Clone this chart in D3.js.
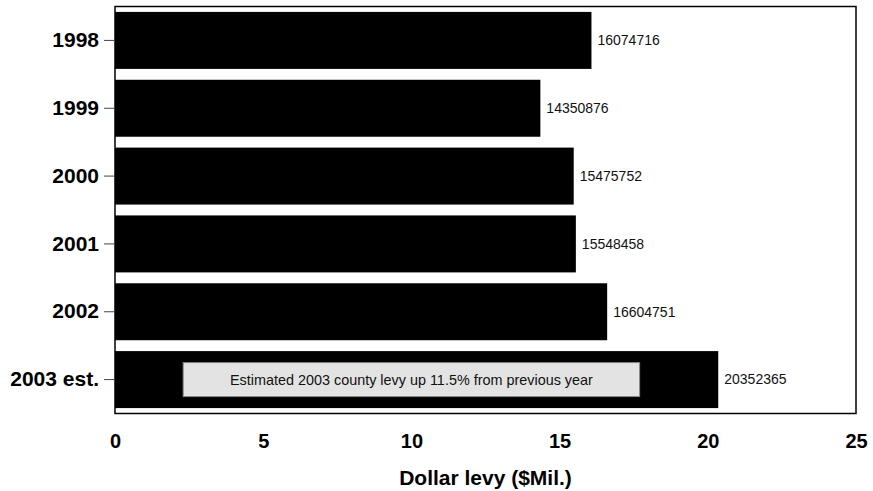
<!DOCTYPE html>
<html><head><meta charset="utf-8">
<script src="https://cdn.jsdelivr.net/npm/d3@7"></script>
<style>body{margin:0;background:#fff}svg{display:block;font-family:Arial,"Liberation Sans",sans-serif}</style>
</head><body><svg id="c" width="873" height="491"></svg>
<script>
const categories = ["1998","1999","2000","2001","2002","2003 est."];
const levyValues = [16074716,14350876,15475752,15548458,16604751,20352365];
const xTicks = [0,5,10,15,20,25];
const axisTitle = "Dollar levy ($Mil.)";
const annotation = "Estimated 2003 county levy up 11.5% from previous year";
const annotationStart = 2.3, annotationEnd = 17.7;

const svg = d3.select("#c");
const L = 115, R = 856, T = 6.5, B = 413.5;
const x = d3.scaleLinear().domain([0,25]).range([L,R]);
const y = d3.scaleBand().domain(categories).range([T,B]).paddingInner(0.16).paddingOuter(0.08);

svg.selectAll("rect.bar").data(levyValues).join("rect").attr("class","bar")
  .attr("x", x(0)).attr("y",(d,i)=>y(categories[i]))
  .attr("width", d=>x(d/1e6)-x(0)).attr("height", y.bandwidth()).attr("fill","#000");

svg.selectAll("text.val").data(levyValues).join("text").attr("class","val")
  .attr("x", d=>x(d/1e6)+6).attr("y",(d,i)=>y(categories[i])+y.bandwidth()/2)
  .attr("dy","0.35em").attr("font-size",14).attr("fill","#111").text(d=>d);

// annotation box on last bar
const last = categories[categories.length-1];
const by = y(last)+y.bandwidth()/2;
svg.append("rect").attr("x",x(annotationStart)).attr("y",by-17).attr("width",x(annotationEnd)-x(annotationStart)).attr("height",34)
  .attr("fill","#e3e3e3").attr("stroke","#888").attr("stroke-width",1);
svg.append("text").attr("x",(x(annotationStart)+x(annotationEnd))/2).attr("y",by).attr("dy","0.35em")
  .attr("text-anchor","middle").attr("font-size",14.4).attr("fill","#111").text(annotation);

// frame
svg.append("rect").attr("x",L).attr("y",T).attr("width",R-L).attr("height",B-T)
  .attr("fill","none").attr("stroke","#000").attr("stroke-width",1.5);

// y axis
const ya = svg.append("g").attr("transform",`translate(${L},0)`)
  .call(d3.axisLeft(y).tickSize(11).tickPadding(5));
ya.select(".domain").remove();
ya.selectAll("line").attr("stroke","#444");
ya.selectAll("text").attr("font-size",21).attr("font-weight","bold").attr("fill","#000")
  .attr("font-family",'Arial,"Liberation Sans",sans-serif');

// x axis
const xa = svg.append("g").attr("transform",`translate(0,${B})`)
  .call(d3.axisBottom(x).tickValues(xTicks).tickSize(0).tickPadding(20));
xa.select(".domain").remove();
xa.selectAll("text").attr("font-size",20).attr("font-weight","bold").attr("fill","#000")
  .attr("font-family",'Arial,"Liberation Sans",sans-serif');

svg.append("text").attr("x",(L+R)/2).attr("y",485).attr("text-anchor","middle")
  .attr("font-size",21).attr("font-weight","bold").text(axisTitle);
</script></body></html>
